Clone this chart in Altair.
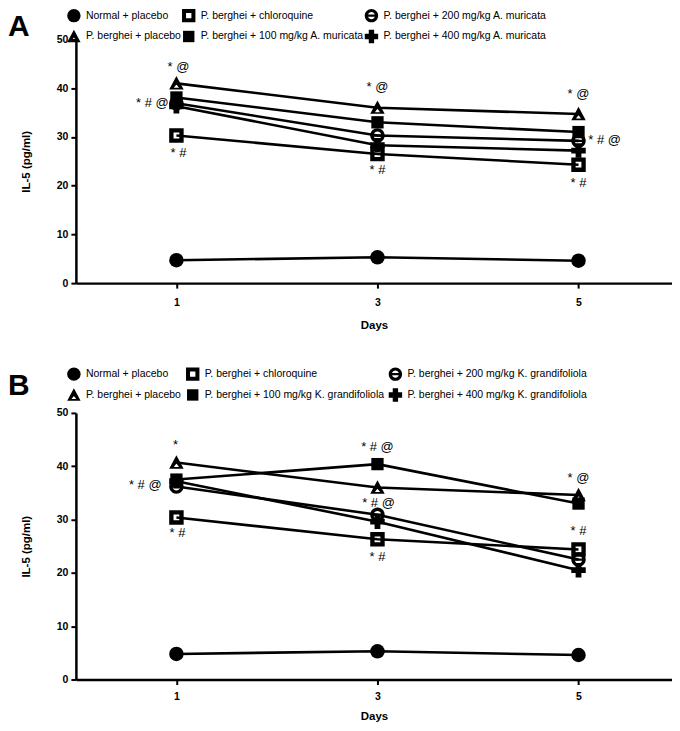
import altair as alt
import pandas as pd

FONT = "'Liberation Sans Narrow', 'Arial Narrow', 'Liberation Sans', Arial, sans-serif"

days = [1, 3, 5]

groups_a = [
    "Normal + placebo",
    "P. berghei + placebo",
    "P. berghei + chloroquine",
    "P. berghei + 100 mg/kg A. muricata",
    "P. berghei + 200 mg/kg A. muricata",
    "P. berghei + 400 mg/kg A. muricata",
]
groups_b = [
    "Normal + placebo",
    "P. berghei + placebo",
    "P. berghei + chloroquine",
    "P. berghei + 100 mg/kg K. grandifoliola",
    "P. berghei + 200 mg/kg K. grandifoliola",
    "P. berghei + 400 mg/kg K. grandifoliola",
]

# Panel A values (IL-5 pg/ml) at days 1, 3, 5
a_normal = [4.7, 5.3, 4.6]
a_placebo = [41.0, 36.0, 34.7]
a_chloroquine = [30.3, 26.5, 24.3]
a_100 = [38.1, 33.0, 31.0]
a_200 = [36.9, 30.3, 29.2]
a_400 = [36.3, 28.3, 27.2]

# Panel B values
b_normal = [4.8, 5.3, 4.6]
b_placebo = [40.7, 36.0, 34.6]
b_chloroquine = [30.4, 26.3, 24.4]
b_100 = [37.5, 40.4, 33.0]
b_200 = [36.2, 30.9, 22.5]
b_400 = [37.2, 29.6, 20.5]

# Significance annotations (day, IL-5 level, text)
a_ann_day = [1.02, 0.76, 1.02, 3.0, 3.0, 5.0, 5.26, 5.0]
a_ann_val = [44.3, 36.9, 26.8, 40.2, 23.2, 38.9, 29.3, 20.5]
a_ann_txt = ["* @", "* # @", "* #", "* @", "* #", "* @", "* # @", "* #"]

b_ann_day = [0.99, 0.69, 1.01, 3.0, 3.01, 3.0, 5.0, 5.0]
b_ann_val = [43.9, 36.5, 27.4, 43.6, 33.1, 22.9, 37.8, 27.9]
b_ann_txt = ["*", "* # @", "* #", "* # @", "* # @", "* #", "* @", "* #"]

# marker shapes (same order as groups)
SH_CIRCLE = "circle"
SH_TRI = "M0,-1L1,0.85L-1,0.85Z M0,0.15L-0.36,0.62L0.36,0.62Z"
SH_OSQ = "M-1,-1L1,-1L1,1L-1,1Z M-0.4,-0.4L-0.4,0.4L0.4,0.4L0.4,-0.4Z"
SH_FSQ = "M-0.85,-0.85L0.85,-0.85L0.85,0.85L-0.85,0.85Z"
SH_CMINUS = ("M-1,0A1,1,0,1,1,1,0A1,1,0,1,1,-1,0Z "
             "M-0.5,-0.16L0.5,-0.16A0.52,0.52,0,0,0,-0.5,-0.16Z "
             "M-0.5,0.16A0.52,0.52,0,0,0,0.5,0.16Z")
SH_PLUS = "cross"
shapes = [SH_CIRCLE, SH_TRI, SH_OSQ, SH_FSQ, SH_CMINUS, SH_PLUS]


def panel(groups, series, ann_day, ann_val, ann_txt, label, height,
          legend_y, col_pad, lab_pad, title_pad):
    rows = []
    for g, vals in zip(groups, series):
        for d, v in zip(days, vals):
            rows.append({"day": d, "il5": v, "group": g})
    df = pd.DataFrame(rows)
    adf = pd.DataFrame({"day": ann_day, "il5": ann_val, "txt": ann_txt})

    x = alt.X("day:Q", scale=alt.Scale(domain=[0, 5.93], nice=False, zero=False),
              axis=alt.Axis(values=days, title="Days", format="d",
                            labelPadding=lab_pad, titlePadding=title_pad))
    y = alt.Y("il5:Q", scale=alt.Scale(domain=[0, 50], nice=False),
              axis=alt.Axis(values=[0, 10, 20, 30, 40, 50], title="IL-5 (pg/ml)"))

    lines = alt.Chart(df).mark_line(color="black", strokeWidth=2.6).encode(
        x=x, y=y, detail="group:N")
    pts = alt.Chart(df).mark_point(filled=True, color="black", size=210, opacity=1).encode(
        x=x, y=y,
        shape=alt.Shape("group:N", scale=alt.Scale(domain=groups, range=shapes),
                        legend=alt.Legend(
                            title=None, orient="none", legendX=-9, legendY=legend_y,
                            columns=3, columnPadding=col_pad, rowPadding=7,
                            labelFont=FONT, labelFontSize=10.5, labelColor="black",
                            labelOffset=5, labelLimit=400, symbolSize=180,
                            symbolFillColor="black", symbolStrokeWidth=0,
                            symbolOpacity=1)))
    ann = alt.Chart(adf).mark_text(font=FONT, fontSize=13, color="black").encode(
        x="day:Q", y="il5:Q", text="txt:N")
    return alt.layer(lines, pts, ann).properties(
        width=597, height=height,
        title=alt.TitleParams(label, anchor="start", frame="group", dx=-68, dy=38,
                              fontSize=30, fontWeight="bold", font="Liberation Sans",
                              color="black"))


pa = panel(groups_a, [a_normal, a_placebo, a_chloroquine, a_100, a_200, a_400],
           a_ann_day, a_ann_val, a_ann_txt, "A", 244, -31, -4, 9, 12)
pb = panel(groups_b, [b_normal, b_placebo, b_chloroquine, b_100, b_200, b_400],
           b_ann_day, b_ann_val, b_ann_txt, "B", 267, -46, 4, 7, 9)

chart = alt.vconcat(pa, pb, spacing=36).resolve_scale(
    shape="independent", x="independent", y="independent"
).resolve_legend(shape="independent").properties(
    padding={"left": 0, "top": 0, "right": 0, "bottom": 0}
).configure_view(stroke=None).configure_axis(
    grid=False, domainColor="black", domainWidth=2.5, tickColor="black",
    tickWidth=2, tickSize=5, labelFont=FONT, labelFontSize=10.5,
    labelFontWeight="bold", labelColor="black", titleFont=FONT,
    titleFontSize=11.5, titleFontWeight="bold", titleColor="black",
).configure_axisY(labelPadding=3, titlePadding=25)

chart.save("out.html", embed_options={"renderer": "svg", "actions": False})
